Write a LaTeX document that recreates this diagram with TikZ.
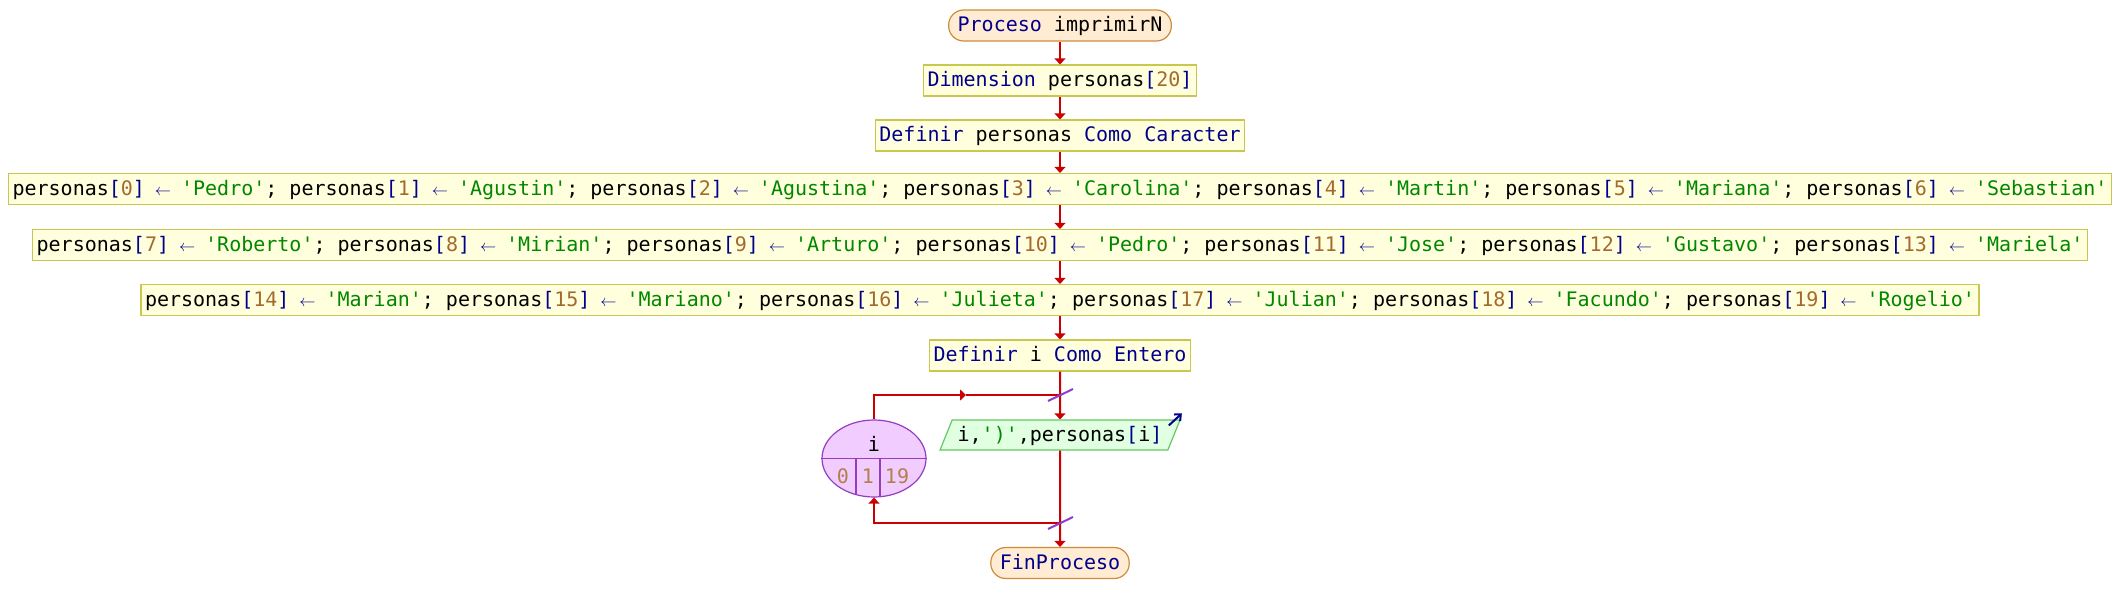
\documentclass[tikz,border=0pt]{standalone}
\usepackage{fontspec}
\setmonofont{DejaVu Sans Mono}
\usetikzlibrary{shapes.geometric,arrows.meta}
\definecolor{kwblue}{RGB}{0,0,140}
\definecolor{numbrown}{RGB}{165,105,45}
\definecolor{strgreen}{RGB}{0,135,0}
\definecolor{flowred}{RGB}{204,0,0}
\definecolor{procfill}{RGB}{255,255,221}
\definecolor{procline}{RGB}{200,200,80}
\definecolor{termfill}{RGB}{255,236,210}
\definecolor{termline}{RGB}{205,140,60}
\definecolor{iofill}{RGB}{225,255,225}
\definecolor{ioline}{RGB}{100,200,100}
\definecolor{loopfill}{RGB}{240,204,255}
\definecolor{loopline}{RGB}{150,60,190}
\definecolor{slashcol}{RGB}{140,60,210}
\newcommand\kw[1]{\textcolor{kwblue}{#1}}
\newcommand\nm[1]{\textcolor{numbrown}{#1}}
\newcommand\st[1]{\textcolor{strgreen}{'#1'}}
\newcommand\flecha{\kw{\makebox[0.6em]{\scalebox{0.78}{$\leftarrow$}}}}
\newcommand\asig[2]{personas\kw{[}\nm{#1}\kw{]} \flecha{} \st{#2}}
\tikzset{
  txt/.style={font=\ttfamily\fontsize{20}{24}\selectfont, text height=16pt, text depth=4pt, inner ysep=0pt, inner xsep=4pt},
  proc/.style={txt, draw=procline, fill=procfill, line width=1.2pt, minimum height=31pt},
  term/.style={txt, draw=termline, fill=termfill, line width=1.2pt, minimum height=31pt, rounded corners=15pt, inner xsep=9pt},
  io/.style={txt, trapezium, trapezium left angle=68, trapezium right angle=112, draw=ioline, fill=iofill, line width=1.2pt, inner ysep=5pt, inner xsep=5.5pt},
  loopvar/.style={ellipse, draw=loopline, fill=loopfill, line width=1.2pt, minimum width=104pt, minimum height=77pt, inner sep=0pt},
  flow/.style={draw=flowred, line width=2pt, -{Triangle[width=11pt,length=6pt]}},
  plain/.style={draw=flowred, line width=2pt},
  slash/.style={draw=slashcol, line width=2pt}
}
\begin{document}
\begin{tikzpicture}[x=1pt,y=-1pt]
    \useasboundingbox (0,0) rectangle (2120,613);
    \node[term] (ini) at (1060,25.5) {\kw{Proceso} imprimirN};
    \node[proc] (dim) at (1060,80.5) {\kw{Dimension} personas\kw{[}\nm{20}\kw{]}};
    \node[proc] (defp) at (1060,135.5) {\kw{Definir} personas \kw{Como Caracter}};
    \node[proc] (asa) at (1060,189) {\asig{0}{Pedro}; \asig{1}{Agustin}; \asig{2}{Agustina}; \asig{3}{Carolina}; \asig{4}{Martin}; \asig{5}{Mariana}; \asig{6}{Sebastian}};
    \node[proc] (asb) at (1060,245) {\asig{7}{Roberto}; \asig{8}{Mirian}; \asig{9}{Arturo}; \asig{10}{Pedro}; \asig{11}{Jose}; \asig{12}{Gustavo}; \asig{13}{Mariela}};
    \node[proc] (asc) at (1060,300) {\asig{14}{Marian}; \asig{15}{Mariano}; \asig{16}{Julieta}; \asig{17}{Julian}; \asig{18}{Facundo}; \asig{19}{Rogelio}};
    \node[proc] (defi) at (1060,355.5) {\kw{Definir} i \kw{Como Entero}};
    \node[io] (esc) at (1060,435) {i,\st{)},personas\kw{[}i\kw{]}};
    \node[loopvar] (lp) at (874,458.5) {};
    \node[term] (fin) at (1060,563) {\kw{FinProceso}};
    \node[txt] (lpv) at (874,445) {i};
    \node[txt, text=numbrown!85] (lpa) at (843,477) {0};
    \node[txt, text=numbrown!85] (lpb) at (868,477) {1};
    \node[txt, text=numbrown!85] (lpc) at (897,477) {19};
    \draw[loopline, line width=1.2pt] (lp.west) -- (lp.east);
    \draw[loopline, line width=1.2pt] (856,458.5) -- (856,494.6);
    \draw[loopline, line width=1.2pt] (880,458.5) -- (880,496.7);
    \coordinate (jtop) at (1060,395);
    \coordinate (ltop) at (966,395);
    \coordinate (jbot) at (1060,523);
    \draw[flow] (ini) -- (dim);
    \draw[flow] (dim) -- (defp);
    \draw[flow] (defp) -- (asa);
    \draw[flow] (asa) -- (asb);
    \draw[flow] (asb) -- (asc);
    \draw[flow] (asc) -- (defi);
    \draw[flow] (defi) -- (esc);
    \draw[flow] (lp.north) |- (ltop);
    \draw[plain] (ltop) -- (jtop);
    \draw[flow] (esc) -- (fin);
    \draw[flow] (jbot) -| (lp.south);
    \draw[slash] ([shift={(-12pt,-6pt)}]jtop) -- ([shift={(13pt,6pt)}]jtop);
    \draw[slash] ([shift={(-12pt,-6pt)}]jbot) -- ([shift={(13pt,6pt)}]jbot);
    \draw[kwblue, line width=2pt, -{Straight Barb[length=5pt,width=9pt]}] ([shift={(-12pt,-6pt)}]esc.top right corner) -- ([shift={(1pt,6pt)}]esc.top right corner);
\end{tikzpicture}
\end{document}
